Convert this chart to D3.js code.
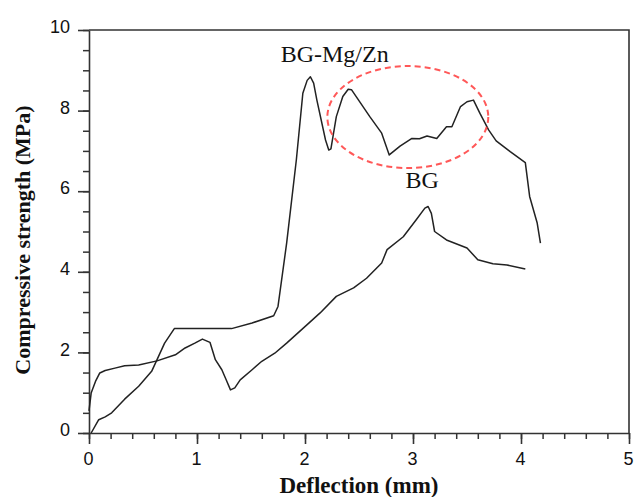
<!DOCTYPE html>
<html>
<head>
<meta charset="utf-8">
<script src="https://cdn.jsdelivr.net/npm/d3@7/dist/d3.min.js"></script>
<style>
  html, body { margin: 0; padding: 0; background: #fff; }
  svg { display: block; }
</style>
</head>
<body>
<svg id="chart" width="635" height="497"></svg>
<script>
// Load–deflection curves from the compression test
const mgZnDeflection = [0.02, 0.09, 0.15, 0.21, 0.33, 0.46, 0.58, 0.63, 0.70, 0.79, 1.32, 1.51, 1.71, 1.75, 1.83, 1.92, 1.98, 2.02, 2.05, 2.08, 2.11, 2.19, 2.22, 2.24, 2.29, 2.35, 2.40, 2.43, 2.60, 2.71, 2.78, 2.88, 2.99, 3.06, 3.13, 3.22, 3.31, 3.36, 3.44, 3.50, 3.56, 3.62, 3.70, 3.77, 3.90, 4.04, 4.08, 4.15, 4.18];
const mgZnStrength   = [0.00, 0.33, 0.40, 0.50, 0.84, 1.16, 1.53, 1.82, 2.23, 2.59, 2.59, 2.73, 2.91, 3.14, 4.71, 6.78, 8.43, 8.75, 8.84, 8.68, 8.26, 7.27, 7.02, 7.05, 7.85, 8.35, 8.53, 8.52, 7.85, 7.44, 6.90, 7.12, 7.31, 7.30, 7.37, 7.31, 7.60, 7.60, 8.10, 8.22, 8.26, 7.93, 7.52, 7.25, 6.98, 6.71, 5.87, 5.21, 4.71];

const bgDeflection = [0.00, 0.02, 0.06, 0.10, 0.15, 0.24, 0.33, 0.46, 0.63, 0.80, 0.89, 0.98, 1.05, 1.12, 1.17, 1.23, 1.27, 1.31, 1.35, 1.40, 1.51, 1.60, 1.72, 1.83, 2.02, 2.14, 2.29, 2.45, 2.57, 2.71, 2.76, 2.91, 3.03, 3.11, 3.14, 3.17, 3.20, 3.31, 3.50, 3.60, 3.74, 3.87, 4.04];
const bgStrength   = [0.55, 0.99, 1.28, 1.49, 1.55, 1.61, 1.67, 1.69, 1.79, 1.94, 2.11, 2.23, 2.33, 2.25, 1.82, 1.57, 1.32, 1.07, 1.12, 1.32, 1.57, 1.78, 1.98, 2.23, 2.69, 2.98, 3.39, 3.60, 3.84, 4.22, 4.55, 4.87, 5.29, 5.58, 5.62, 5.45, 5.00, 4.79, 4.59, 4.30, 4.20, 4.17, 4.07];

const xMajorTicks = [0, 1, 2, 3, 4, 5];
const yMajorTicks = [0, 2, 4, 6, 8, 10];

// Curve labels and the highlighted region (data units)
const curveLabels = [
  { text: "BG-Mg/Zn", x: 1.775, y: 9.2 },
  { text: "BG", x: 2.93, y: 6.08 }
];
const highlight = { cx: 2.952, cy: 7.84, rx: 0.745, ry: 1.265 };

const svg = d3.select("#chart");
const plotLeft = 89, plotRight = 629, plotTop = 30, plotBottom = 433;

const x = d3.scaleLinear().domain([0, 5]).range([plotLeft, plotRight]);
const y = d3.scaleLinear().domain([0, 10]).range([plotBottom, plotTop]);

const axisColor = "#333";
const tickFont = "'Liberation Sans Narrow', 'Liberation Sans', Arial, sans-serif";

// Frame (top and right edges)
svg.append("path")
  .attr("d", `M${x(0)},${y(10)}H${x(5)}V${y(0)}`)
  .attr("fill", "none").attr("stroke", axisColor).attr("stroke-width", 1.6);

// Minor ticks
const xMinor = d3.range(0, 5.0001, 0.2).map(v => +v.toFixed(1));
const yMinor = d3.range(0, 10.0001, 0.5).map(v => +v.toFixed(1));

svg.append("g").attr("transform", `translate(0,${plotBottom})`)
  .call(d3.axisBottom(x).tickValues(xMinor).tickSize(6).tickSizeOuter(0).tickFormat(""))
  .call(g => g.select(".domain").remove())
  .call(g => g.selectAll("line").attr("stroke", axisColor).attr("stroke-width", 1.5));

svg.append("g").attr("transform", `translate(${plotLeft},0)`)
  .call(d3.axisLeft(y).tickValues(yMinor).tickSize(6).tickSizeOuter(0).tickFormat(""))
  .call(g => g.select(".domain").remove())
  .call(g => g.selectAll("line").attr("stroke", axisColor).attr("stroke-width", 1.5));

// Major ticks with labels
const xAxis = svg.append("g").attr("transform", `translate(0,${plotBottom})`)
  .call(d3.axisBottom(x).tickValues(xMajorTicks).tickSize(11).tickSizeOuter(0).tickPadding(8).tickFormat(d3.format("d")));
xAxis.select(".domain").attr("stroke", axisColor).attr("stroke-width", 1.6);
xAxis.selectAll("line").attr("stroke", axisColor).attr("stroke-width", 1.6);
xAxis.selectAll("text").attr("font-family", tickFont).attr("font-size", 18).attr("fill", "#111").attr("dx", -1);

const yAxis = svg.append("g").attr("transform", `translate(${plotLeft},0)`)
  .call(d3.axisLeft(y).tickValues(yMajorTicks).tickSize(11).tickSizeOuter(0).tickPadding(8).tickFormat(d3.format("d")));
yAxis.select(".domain").attr("stroke", axisColor).attr("stroke-width", 1.6);
yAxis.selectAll("line").attr("stroke", axisColor).attr("stroke-width", 1.6);
yAxis.selectAll("text").attr("font-family", tickFont).attr("font-size", 18).attr("fill", "#111").attr("dy", "0.15em");

// Axis titles
svg.append("text")
  .attr("x", (plotLeft + plotRight) / 2).attr("y", 493)
  .attr("text-anchor", "middle")
  .attr("font-family", "'Liberation Serif', 'Times New Roman', serif")
  .attr("font-weight", "bold").attr("font-size", 23).attr("fill", "#111")
  .text("Deflection (mm)");

svg.append("text")
  .attr("transform", `translate(30,240) rotate(-90)`)
  .attr("text-anchor", "middle")
  .attr("font-family", "'Liberation Serif', 'Times New Roman', serif")
  .attr("font-weight", "bold").attr("font-size", 22).attr("fill", "#111")
  .text("Compressive strength (MPa)");

// Curves
const line = d3.line().x(d => x(d[0])).y(d => y(d[1]));
const mgZn = mgZnDeflection.map((d, i) => [d, mgZnStrength[i]]);
const bg = bgDeflection.map((d, i) => [d, bgStrength[i]]);

[mgZn, bg].forEach(series => {
  svg.append("path").datum(series)
    .attr("d", line)
    .attr("fill", "none")
    .attr("stroke", "#222")
    .attr("stroke-width", 1.5)
    .attr("stroke-linejoin", "round");
});

// Highlighted region
svg.append("ellipse")
  .attr("cx", x(highlight.cx)).attr("cy", y(highlight.cy))
  .attr("rx", x(highlight.rx) - x(0)).attr("ry", y(0) - y(highlight.ry))
  .attr("fill", "none")
  .attr("stroke", "#ff3b3b").attr("stroke-opacity", 0.85)
  .attr("stroke-width", 2).attr("stroke-dasharray", "6 4");

// Curve labels
svg.selectAll(".curve-label").data(curveLabels).enter().append("text")
  .attr("class", "curve-label")
  .attr("x", d => x(d.x)).attr("y", d => y(d.y))
  .attr("font-family", "'Liberation Serif', 'Times New Roman', serif")
  .attr("font-size", 24).attr("fill", "#111")
  .text(d => d.text);
</script>
</body>
</html>
